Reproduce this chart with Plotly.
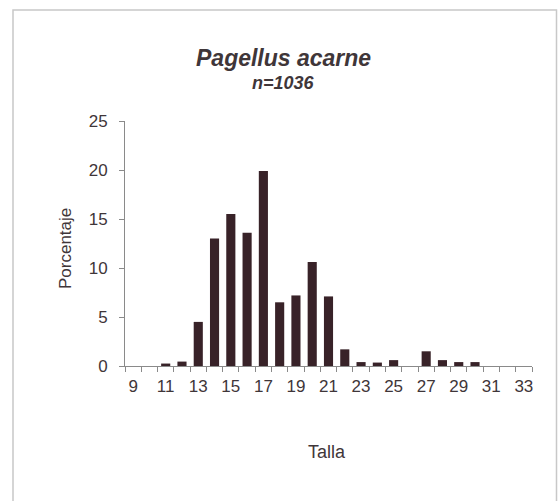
import plotly.graph_objects as go

tallas = list(range(9, 34))
porcentaje = [0, 0, 0.25, 0.45, 4.5, 13.0, 15.5, 13.6, 19.9, 6.5, 7.2, 10.6, 7.1,
              1.7, 0.4, 0.35, 0.6, 0, 1.5, 0.6, 0.4, 0.4, 0, 0, 0]
xtick_vals = list(range(9, 34, 2))
ytick_vals = [0, 5, 10, 15, 20, 25]

W, H = 558, 501
L, R, T, B = 125, 532, 121, 366
pw, ph = R - L, B - T

def px(x):
    return (x - L) / pw

def py(y):
    return (B - y) / ph

fig = go.Figure()
fig.add_trace(go.Bar(
    x=tallas, y=porcentaje, width=0.56,
    marker=dict(color="#382228", line=dict(width=0)),
))

txt = "#3f3639"
ann = dict(xref="paper", yref="paper", showarrow=False,
           xanchor="center", yanchor="middle")
fig.update_layout(
    width=W, height=H,
    margin=dict(l=L, r=W - R, t=T, b=H - B),
    paper_bgcolor="white", plot_bgcolor="white",
    showlegend=False,
    font=dict(family="Liberation Sans, Arial, sans-serif", color=txt, size=17),
    xaxis=dict(
        range=[8.5, 33.5], tickmode="array", tickvals=xtick_vals,
        ticks="", showgrid=False, zeroline=False,
        showline=True, linecolor="#8a8a8a", linewidth=1,
        tickfont=dict(size=17, color=txt), ticklabelstandoff=5,
        minor=dict(tickmode="array", tickvals=[v + 0.5 for v in range(8, 34)],
                   ticks="outside", ticklen=5, tickcolor="#8a8a8a", showgrid=False),
    ),
    yaxis=dict(
        range=[0, 25], tickmode="array", tickvals=ytick_vals,
        ticks="outside", ticklen=5, tickcolor="#8a8a8a",
        showgrid=False, zeroline=False,
        showline=True, linecolor="#8a8a8a", linewidth=1,
        tickfont=dict(size=17, color=txt), ticklabelstandoff=8,
    ),
    shapes=[dict(type="rect", xref="paper", yref="paper",
                 x0=px(13), x1=px(556.5), y0=py(510), y1=py(10),
                 line=dict(color="#c8c8c8", width=1.5))],
    annotations=[
        dict(text="<b><i>Pagellus acarne</i></b>", x=px(283), y=py(58),
             font=dict(size=23, color=txt), **ann),
        dict(text="<b><i>n=1036</i></b>", x=px(283), y=py(83),
             font=dict(size=18, color=txt), **ann),
        dict(text="Porcentaje", x=px(65), y=py(249), textangle=-90,
             font=dict(size=17, color=txt), **ann),
        dict(text="Talla", x=px(327), y=py(452),
             font=dict(size=18, color=txt), **ann),
    ],
)

fig.write_html(
    "out.html",
    config={"displayModeBar": False},
    post_script="document.body.style.margin='0';document.body.style.overflow='hidden';",
)
